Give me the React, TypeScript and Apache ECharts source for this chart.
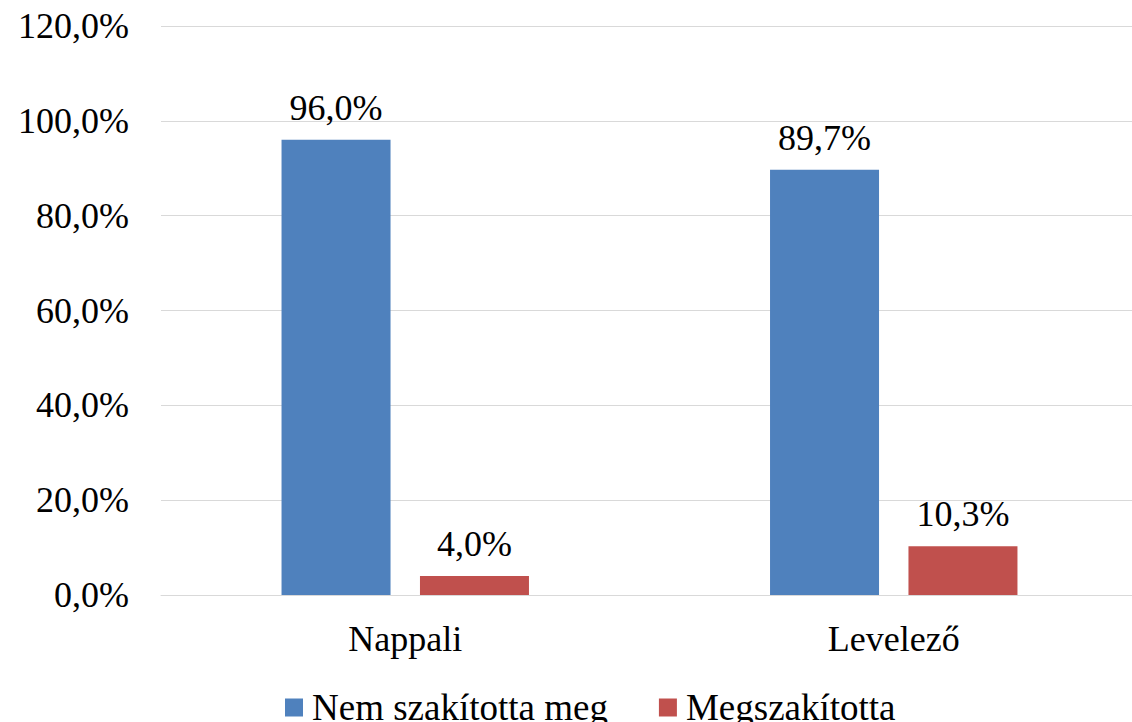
import React, { useEffect, useRef } from "react";
import * as echarts from "echarts";

const categories = ["Nappali", "Levelező"];
const seriesNames = ["Nem szakította meg", "Megszakította"];
const notInterrupted = [96.0, 89.7];
const interrupted = [4.0, 10.3];
const seriesColors = ["#4F81BD", "#C0504D"];

const FONT = "'Times New Roman', 'Liberation Serif', 'DejaVu Serif', serif";
const fmt = (v: number) => v.toFixed(1).replace(".", ",") + "%";

export default function App() {
  const ref = useRef<HTMLDivElement>(null);
  useEffect(() => {
    if (!ref.current) return;
    const chart = echarts.init(ref.current, null, { renderer: "svg" });
    const labelStyle = {
      show: true,
      position: "top" as const,
      distance: 14,
      fontFamily: FONT,
      fontSize: 36,
      color: "#000",
      formatter: (p: any) => fmt(p.value),
    };
    chart.setOption({
      animation: false,
      backgroundColor: "#fff",
      textStyle: { fontFamily: FONT },
      grid: { left: 161, right: 2, top: 26, bottom: 127, containLabel: false },
      legend: {
        left: 280,
        top: 684,
        itemWidth: 18,
        itemHeight: 18,
        itemGap: 51,
        icon: "rect",
        textStyle: {
          fontFamily: FONT,
          fontSize: 37,
          color: "#000",
          padding: [0, 0, 0, 4],
        },
        data: seriesNames,
      },
      xAxis: {
        type: "category",
        data: categories,
        axisLine: { show: true, lineStyle: { color: "#D9D9D9", width: 1 } },
        axisTick: { show: false },
        axisLabel: { fontFamily: FONT, fontSize: 36, color: "#000", margin: 26 },
      },
      yAxis: {
        type: "value",
        min: 0,
        max: 120,
        interval: 20,
        axisLine: { show: false },
        axisTick: { show: false },
        splitLine: { lineStyle: { color: "#D9D9D9", width: 1 } },
        axisLabel: {
          fontFamily: FONT,
          fontSize: 36,
          color: "#000",
          margin: 32,
          formatter: (v: number) => fmt(v),
        },
      },
      series: [
        {
          name: seriesNames[0],
          type: "bar",
          data: notInterrupted,
          barWidth: 109,
          barGap: "27%",
          itemStyle: { color: seriesColors[0] },
          label: labelStyle,
        },
        {
          name: seriesNames[1],
          type: "bar",
          data: interrupted,
          barWidth: 109,
          barGap: "27%",
          itemStyle: { color: seriesColors[1] },
          label: labelStyle,
        },
      ],
    });
    return () => chart.dispose();
  }, []);
  return (
    <div
      style={{
        position: "fixed",
        left: 0,
        top: 0,
        width: 1132,
        height: 722,
        overflow: "hidden",
        background: "#fff",
      }}
    >
      <div ref={ref} style={{ width: 1140, height: 722 }} />
    </div>
  );
}
